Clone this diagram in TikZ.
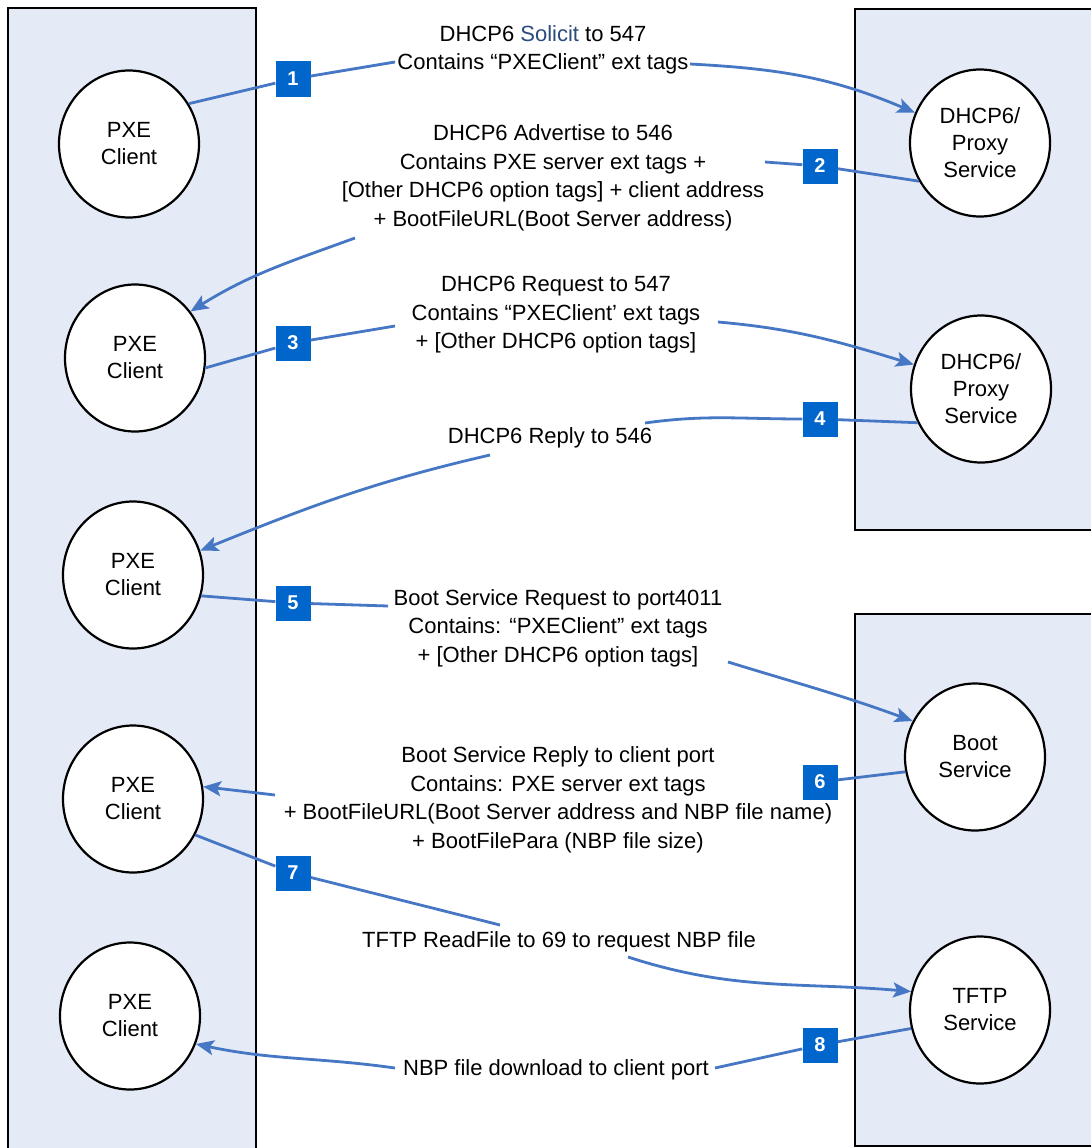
\documentclass[tikz,border=0pt]{standalone}
\usepackage{fontspec}
\setmainfont{Liberation Sans}
\usetikzlibrary{shapes.geometric,arrows.meta}
\definecolor{panel}{HTML}{E5EBF6}
\definecolor{lnblue}{HTML}{4677C4}
\definecolor{tagblue}{HTML}{0066CC}
\definecolor{darkblue}{HTML}{2B4A7E}
\begin{document}
\begin{tikzpicture}[x=1pt,y=-1pt,
  panelbox/.style={draw=black,line width=2.5pt,fill=panel},
  ent/.style={ellipse,draw=black,line width=2.2pt,fill=white,minimum width=140pt,minimum height=147pt,align=center,font=\fontsize{22}{27}\selectfont,inner sep=0pt},
  tag/.style={fill=tagblue,text=white,font=\fontsize{20}{20}\selectfont\bfseries,minimum size=35pt,inner sep=0pt},
  msg/.style={align=center,font=\fontsize{22}{28.5}\selectfont,inner sep=1pt},
  conn/.style={draw=lnblue,line width=2.8pt},
  arr/.style={conn,-{Stealth[length=18pt,width=15pt,inset=4pt]}}]

\useasboundingbox (0,0) rectangle (1091,1148);
\fill[white] (0,0) rectangle (1091,1148);
\draw[panelbox] (8,8) rectangle (256,1165);
\draw[panelbox] (855,9) rectangle (1105,530);
\draw[panelbox] (855,614) rectangle (1105,1146);

% entities
\node[ent] (pxe1) at (129,144) {PXE\\Client};
\node[ent] (pxe2) at (135,358) {PXE\\Client};
\node[ent] (pxe3) at (133,575) {PXE\\Client};
\node[ent] (pxe4) at (133,799) {PXE\\Client};
\node[ent] (pxe5) at (130,1016) {PXE\\Client};
\node[ent] (dh1) at (980,143) {DHCP6/\\Proxy\\Service};
\node[ent] (dh2) at (981,389) {DHCP6/\\Proxy\\Service};
\node[ent] (boot) at (975,757) {Boot\\Service};
\node[ent] (tftp) at (980,1010) {TFTP\\Service};

% messages
\node[msg] (t1) at (543,50) {DHCP6 {\color{darkblue}Solicit} to 547\\Contains “PXEClient” ext tags};
\node[msg] (t2) at (553,178) {DHCP6 Advertise to 546\\Contains PXE server ext tags +\\{[}Other DHCP6 option tags{]} + client address\\+ BootFileURL(Boot Server address)};
\node[msg] (t3) at (556,315) {DHCP6 Request to 547\\Contains “PXEClient’ ext tags\\+ {[}Other DHCP6 option tags{]}};
\node[msg] (t4) at (550,438) {DHCP6 Reply to 546};
\node[msg] (t5) at (558,628) {Boot Service Request to port4011\\Contains: “PXEClient” ext tags\\+ {[}Other DHCP6 option tags{]}};
\node[msg] (t6) at (558,800) {Boot Service Reply to client port\\Contains: PXE server ext tags\\+ BootFileURL(Boot Server address and NBP file name)\\+ BootFilePara (NBP file size)};
\node[msg] (t7) at (559,942) {TFTP ReadFile to 69 to request NBP file};
\node[msg] (t8) at (556,1070) {NBP file download to client port};

% step tags
\node[tag] (n1) at (293,79) {1};
\node[tag] (n2) at (820,166) {2};
\node[tag] (n3) at (293,343) {3};
\node[tag] (n4) at (820,419) {4};
\node[tag] (n5) at (293,603) {5};
\node[tag] (n6) at (820,782) {6};
\node[tag] (n7) at (293,873) {7};
\node[tag] (n8) at (820,1045) {8};

% connector end points at the message texts
\coordinate (c1a) at (395,62);  \coordinate (c1b) at (690,64);
\coordinate (c2a) at (765,162); \coordinate (c2b) at (355,238);
\coordinate (c3a) at (395,326); \coordinate (c3b) at (718,322);
\coordinate (c4a) at (645,423); \coordinate (c4b) at (490,455);
\coordinate (c5a) at (388,606); \coordinate (c5b) at (728,662);
\coordinate (c6) at (275,795);
\coordinate (c7a) at (500,925); \coordinate (c7b) at (628,957);
\coordinate (c8a) at (715,1068); \coordinate (c8b) at (395,1068);

% connectors
\draw[conn] (pxe1.34) -- (n1) -- (c1a);
\draw[arr] (c1b) to[out=-3,in=157] (dh1.155);

\draw[conn] (dh1.212) -- (n2) -- (c2a);
\draw[arr] (c2b) to[out=200,in=32] (pxe2.40);

\draw[conn] (pxe2.-8) -- (n3) -- (c3a);
\draw[arr] (c3b) to[out=-5,in=163] (dh2.160);

\draw[conn] (dh2.208) -- (n4) to[out=180,in=8] (c4a);
\draw[arr] (c4b) to[out=193,in=22] (pxe3.20);

\draw[conn] (pxe3.-17) -- (n5) -- (c5a);
\draw[arr] (c5b) to[out=-17,in=160] (boot.150);

\draw[conn] (boot.192) -- (n6);
\draw[arr] (c6) -- (pxe4.10);

\draw[conn] (pxe4.-30) -- (n7) -- (c7a);
\draw[arr] (c7b) to[out=-18,in=175] (tftp.165);

\draw[conn] (tftp.195) -- (n8) -- (c8a);
\draw[arr] (c8b) to[out=172,in=-12] (pxe5.-23);
\end{tikzpicture}
\end{document}
